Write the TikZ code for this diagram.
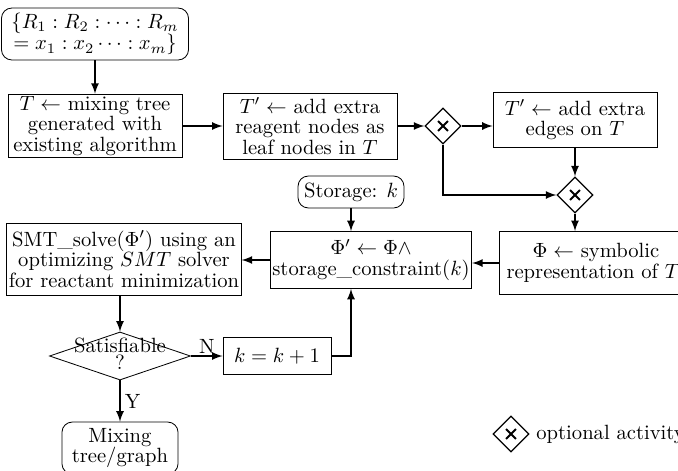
\documentclass[tikz,border=0pt]{standalone}
\usepackage{amsmath}
\usepackage{amssymb}
\usepackage{tikz}
\usetikzlibrary{shapes.geometric}

\begin{document}
\begin{tikzpicture}[x=0.485pt,y=-0.485pt,>=latex,
  box/.style={draw,rectangle,align=center,inner xsep=1pt,inner ysep=1pt,font=\fontsize{10}{10}\selectfont},
  rbox/.style={box,rounded corners=5pt},
  xorgate/.style={draw,diamond,inner sep=0pt,minimum size=17.5pt,line width=0.6pt,
    path picture={\draw[line width=1pt]
      (path picture bounding box.center) +(-2.4pt,-2.4pt) -- +(2.4pt,2.4pt)
      (path picture bounding box.center) +(-2.4pt,2.4pt) -- +(2.4pt,-2.4pt);}},
  arr/.style={->,line width=0.75pt}]
  \useasboundingbox (0,0) rectangle (678,470);

  \node[rbox,minimum width=90.7pt,minimum height=25.2pt,font=\fontsize{10}{10.5}\selectfont] (start) at (95,34) {$\{R_1:R_2:\cdots:R_m$\\$=x_1:x_2\cdots:x_m\}$};
  \node[box,minimum width=84.4pt,minimum height=30.1pt] (gen) at (95,126) {$T\leftarrow$ mixing tree\\generated with\\existing algorithm};
  \node[box,minimum width=84.4pt,minimum height=32pt] (addn) at (310,126) {$T'\leftarrow$ add extra\\reagent nodes as\\leaf nodes in $T$};
  \node[xorgate] (xa) at (443,126) {};
  \node[box,minimum width=79.5pt,minimum height=26.7pt] (adde) at (575,120) {$T'\leftarrow$ add extra\\edges on $T$};
  \node[xorgate] (xb) at (575,195) {};
  \node[box,minimum width=94pt,minimum height=30.6pt] (sym) at (596,263) {$\Phi\leftarrow$ symbolic\\representation of $T'$};
  \node[rbox,minimum width=51.4pt,minimum height=15.5pt] (stor) at (351,192) {Storage: $k$};
  \node[box,minimum width=96pt,minimum height=27.6pt] (phip) at (371,260) {$\Phi'\leftarrow\Phi\wedge$\\storage\_constraint$(k)$};
  \node[box,minimum width=112.5pt,minimum height=35pt] (smt) at (124,259) {SMT\_solve$(\Phi')$ using an\\optimizing $SMT$ solver\\for reactant minimization};
  \node[draw,diamond,inner sep=0pt,minimum width=68.4pt,minimum height=23.3pt,
    label={[align=center,font=\fontsize{10}{8}\selectfont,yshift=1pt]center:Satisfiable\\?}] (sat) at (120,356) {};
  \node[box,minimum width=52.4pt,minimum height=18pt] (kinc) at (277,356) {$k=k+1$};
  \node[rbox,minimum width=56.3pt,minimum height=25.2pt] (mix) at (120,448) {Mixing\\tree/graph};
  \node[xorgate] (xleg) at (511,434) {};
  \node[anchor=west,inner sep=0pt] (legtext) at (536,434) {optional activity};

  \draw[arr] (start) -- (gen);
  \draw[arr] (gen) -- (addn);
  \draw[arr] (addn) -- (xa);
  \draw[arr] (xa.east) -- (xa.east -| adde.west);
  \draw[arr] (adde) -- (xb);
  \draw[arr] (xa.south) |- (xb.west);
  \draw[arr] (xb.south) -- (xb.south |- sym.north);
  \draw[arr] (sym.west) -- (sym.west -| phip.east);
  \draw[arr] (stor.south) -- (stor.south |- phip.north);
  \draw[arr] (phip.west) -- (phip.west -| smt.east);
  \draw[arr] (sat.north |- smt.south) -- (sat.north);
  \draw[arr] (sat.east) -- node[above,inner sep=1pt] {N} (kinc.west);
  \draw[arr] (kinc.east) -| (stor.south |- phip.south);
  \draw[arr] (sat.south) -- node[right,inner sep=2pt] {Y} (mix.north);
\end{tikzpicture}
\end{document}
